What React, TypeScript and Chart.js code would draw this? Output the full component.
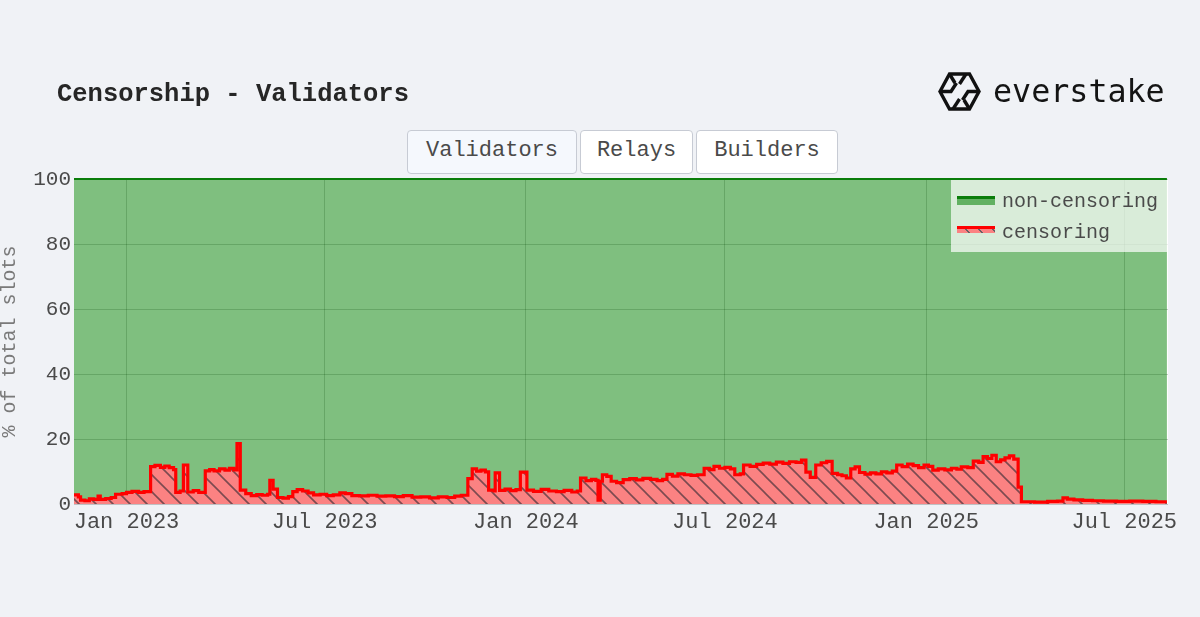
import React, { useEffect, useRef } from "react";
import { Chart, registerables } from "chart.js";

Chart.register(...registerables);

// ---------- data ----------
const seriesNames = ["non-censoring", "censoring"];

const censorDates = [
  "2022-11-14", "2022-11-18", "2022-11-20", "2022-11-24", "2022-11-28", "2022-12-02", "2022-12-06", "2022-12-08",
  "2022-12-13", "2022-12-18", "2022-12-22", "2022-12-28", "2023-01-01", "2023-01-06", "2023-01-12", "2023-01-17",
  "2023-01-23", "2023-01-27", "2023-02-01", "2023-02-05", "2023-02-09", "2023-02-13", "2023-02-15", "2023-02-19",
  "2023-02-22", "2023-02-26", "2023-03-03", "2023-03-08", "2023-03-14", "2023-03-18", "2023-03-22", "2023-03-27",
  "2023-04-01", "2023-04-05", "2023-04-09", "2023-04-12", "2023-04-15", "2023-04-20", "2023-04-25", "2023-04-30",
  "2023-05-05", "2023-05-10", "2023-05-12", "2023-05-15", "2023-05-19", "2023-05-24", "2023-05-29", "2023-06-02",
  "2023-06-06", "2023-06-11", "2023-06-16", "2023-06-21", "2023-06-27", "2023-07-03", "2023-07-09", "2023-07-15",
  "2023-07-20", "2023-07-26", "2023-08-02", "2023-08-10", "2023-08-18", "2023-08-26", "2023-09-03", "2023-09-11",
  "2023-09-19", "2023-09-27", "2023-10-05", "2023-10-13", "2023-10-21", "2023-10-28", "2023-11-03", "2023-11-09",
  "2023-11-13", "2023-11-17", "2023-11-21", "2023-11-25", "2023-11-28", "2023-12-03", "2023-12-04", "2023-12-08",
  "2023-12-13", "2023-12-18", "2023-12-23", "2023-12-27", "2024-01-02", "2024-01-08", "2024-01-15", "2024-01-22",
  "2024-01-29", "2024-02-05", "2024-02-12", "2024-02-17", "2024-02-20", "2024-02-25", "2024-03-01", "2024-03-05",
  "2024-03-07", "2024-03-09", "2024-03-11", "2024-03-15", "2024-03-19", "2024-03-24", "2024-03-30", "2024-04-05",
  "2024-04-11", "2024-04-17", "2024-04-24", "2024-04-30", "2024-05-05", "2024-05-09", "2024-05-14", "2024-05-19",
  "2024-05-25", "2024-05-31", "2024-06-06", "2024-06-12", "2024-06-17", "2024-06-21", "2024-06-26", "2024-07-01",
  "2024-07-06", "2024-07-10", "2024-07-15", "2024-07-18", "2024-07-24", "2024-07-30", "2024-08-05", "2024-08-11",
  "2024-08-17", "2024-08-23", "2024-08-29", "2024-09-04", "2024-09-09", "2024-09-13", "2024-09-17", "2024-09-22",
  "2024-09-27", "2024-10-02", "2024-10-07", "2024-10-12", "2024-10-16", "2024-10-20", "2024-10-24", "2024-10-28",
  "2024-11-01", "2024-11-06", "2024-11-11", "2024-11-16", "2024-11-21", "2024-11-26", "2024-12-01", "2024-12-05",
  "2024-12-10", "2024-12-15", "2024-12-20", "2024-12-25", "2024-12-30", "2025-01-03", "2025-01-07", "2025-01-12",
  "2025-01-18", "2025-01-24", "2025-01-29", "2025-02-02", "2025-02-08", "2025-02-13", "2025-02-18", "2025-02-22",
  "2025-02-26", "2025-03-02", "2025-03-06", "2025-03-10", "2025-03-14", "2025-03-18", "2025-03-22", "2025-03-26",
  "2025-03-29", "2025-04-10", "2025-04-22", "2025-05-01", "2025-05-06", "2025-05-10", "2025-05-16", "2025-05-24",
  "2025-06-02", "2025-06-12", "2025-06-24", "2025-07-06", "2025-07-18", "2025-07-30", "2025-08-09",
];

const censorValues = [
  2.8, 2.2, 1.2, 1.0, 1.6, 1.4, 2.4, 1.4,
  1.7, 2.0, 3.0, 3.2, 3.6, 3.9, 3.6, 3.8,
  11.5, 11.9, 11.3, 11.7, 11.2, 10.6, 3.6, 4.0,
  12.0, 3.7, 4.1, 3.6, 10.2, 10.6, 10.2, 10.8,
  10.4, 11.0, 10.5, 18.6, 4.3, 3.2, 2.6, 2.9,
  2.7, 3.0, 7.3, 4.6, 2.0, 1.8, 2.3, 3.8,
  4.4, 4.0, 3.4, 2.8, 3.0, 2.6, 2.8, 3.4,
  3.2, 2.6, 2.5, 2.7, 2.4, 2.5, 2.3, 2.6,
  2.1, 2.2, 1.9, 2.2, 2.0, 2.4, 2.7, 7.8,
  10.8, 10.1, 10.4, 9.9, 4.3, 4.0, 9.6, 4.2,
  4.6, 4.1, 4.4, 9.8, 4.3, 3.9, 4.5, 4.0,
  3.8, 4.2, 3.7, 4.0, 8.0, 7.2, 7.6, 7.3,
  1.2, 7.0, 9.0, 8.5, 7.0, 6.6, 7.5, 7.8,
  7.4, 7.9, 7.6, 7.2, 7.6, 9.1, 8.6, 9.3,
  9.0, 8.8, 9.0, 11.0, 10.6, 11.6, 11.0, 11.3,
  10.8, 9.0, 9.3, 12.0, 11.6, 12.2, 12.6, 12.3,
  12.9, 12.5, 13.0, 12.8, 13.5, 9.8, 8.2, 12.0,
  12.7, 13.1, 9.4, 9.0, 8.7, 8.0, 10.8, 11.4,
  9.7, 9.2, 9.6, 9.3, 9.9, 9.6, 10.1, 12.0,
  11.5, 12.3, 11.8, 11.2, 12.0, 11.6, 10.4, 10.8,
  10.5, 11.0, 10.7, 11.4, 11.2, 13.2, 12.8, 14.6,
  14.0, 15.0, 13.0, 13.6, 14.2, 14.8, 13.8, 5.2,
  0.7, 0.6, 0.8, 0.9, 1.9, 1.5, 1.3, 1.1,
  1.0, 0.9, 0.8, 0.9, 0.8, 0.7, 0.7,
];

const xRange = ["2022-11-14", "2025-08-10"];
const xTickDates = ["2023-01-01", "2023-07-01", "2024-01-01", "2024-07-01", "2025-01-01", "2025-07-01"];
const xTickLabels = ["Jan 2023", "Jul 2023", "Jan 2024", "Jul 2024", "Jan 2025", "Jul 2025"];
const yTickValues = [0, 20, 40, 60, 80, 100];
const yAxisTitle = "% of total slots";
const chartTitle = "Censorship - Validators";
const tabLabels = ["Validators", "Relays", "Builders"];

// ---------- helpers ----------
const toDay = (s: string) => {
  const [y, m, d] = s.split("-").map(Number);
  return Date.UTC(y, m - 1, d) / 86400000;
};

const MONO = "'Courier New', 'Liberation Mono', monospace";
const FILL_RED = "#fb8282";

function makeHatch(): CanvasPattern | string {
  const s = 17;
  const c = document.createElement("canvas");
  c.width = s;
  c.height = s;
  const g = c.getContext("2d");
  if (!g) return FILL_RED;
  g.fillStyle = FILL_RED;
  g.fillRect(0, 0, s, s);
  g.strokeStyle = "rgba(45,40,50,0.62)";
  g.lineWidth = 1.6;
  g.beginPath();
  g.moveTo(-2, -2);
  g.lineTo(s + 2, s + 2);
  g.moveTo(s - 3, -3);
  g.lineTo(s + 3, 3);
  g.moveTo(-3, s - 3);
  g.lineTo(3, s + 3);
  g.stroke();
  const p = g.createPattern(c, "repeat");
  return p || FILL_RED;
}

const plotBg = {
  id: "plotBg",
  beforeDraw(chart: any) {
    const { ctx, chartArea } = chart;
    if (!chartArea) return;
    ctx.save();
    ctx.fillStyle = "#ffffff";
    ctx.fillRect(chartArea.left, chartArea.top, chartArea.right - chartArea.left, chartArea.bottom - chartArea.top);
    ctx.restore();
  },
};

function ChartCanvas() {
  const ref = useRef<HTMLCanvasElement | null>(null);
  useEffect(() => {
    if (!ref.current) return;
    const xs = censorDates.map(toDay);
    const censoring = xs.map((x, i) => ({ x, y: censorValues[i] }));
    const nonCensoring = xs.map((x, i) => ({ x, y: 100 - censorValues[i] }));
    const tickVals = xTickDates.map(toDay);

    const chart = new Chart(ref.current, {
      type: "line",
      data: {
        datasets: [
          {
            label: seriesNames[1],
            data: censoring,
            stepped: "before",
            borderColor: "#ff0000",
            borderWidth: 3.2,
            backgroundColor: makeHatch() as any,
            fill: "origin",
            pointRadius: 0,
            stack: "s",
          },
          {
            label: seriesNames[0],
            data: nonCensoring,
            stepped: "before",
            borderColor: "#0a7d0a",
            borderWidth: 2,
            backgroundColor: "rgba(0,128,0,0.5)",
            fill: "-1",
            pointRadius: 0,
            stack: "s",
            clip: 3,
          } as any,
        ],
      },
      options: {
        animation: false,
        responsive: false,
        events: [],
        layout: { padding: { top: 179, right: 32, bottom: 60, left: 0 } },
        plugins: {
          legend: { display: false },
          tooltip: { enabled: false },
        },
        scales: {
          x: {
            type: "linear",
            min: toDay(xRange[0]),
            max: toDay(xRange[1]),
            grid: { color: "rgba(0,0,0,0.2)", drawTicks: false },
            border: { display: false },
            afterBuildTicks: (axis: any) => {
              axis.ticks = tickVals.map((v) => ({ value: v }));
            },
            afterFit: (axis: any) => {
              axis.height = 53;
            },
            ticks: {
              autoSkip: false,
              maxRotation: 0,
              padding: 5,
              color: "#4a4a4a",
              font: { family: MONO, size: 22 },
              callback: (_v: any, i: number) => xTickLabels[i],
            },
          },
          y: {
            stacked: true,
            min: 0,
            max: 100,
            grid: { color: "rgba(0,0,0,0.2)", drawTicks: false },
            border: { display: false },
            afterBuildTicks: (axis: any) => {
              axis.ticks = yTickValues.map((v) => ({ value: v }));
            },
            afterFit: (axis: any) => {
              axis.width = 74;
            },
            ticks: {
              padding: 3,
              color: "#4a4a4a",
              font: { family: MONO, size: 21 },
            },
            title: {
              display: true,
              text: yAxisTitle,
              color: "#7a7a7a",
              padding: 0,
              font: { family: MONO, size: 20, lineHeight: 1.0 },
            },
          },
        },
      },
      plugins: [plotBg],
    } as any);
    return () => chart.destroy();
  }, []);
  return (
    <canvas
      ref={ref}
      width={1200}
      height={617}
      style={{ position: "absolute", left: 0, top: 0, width: 1200, height: 617 }}
    />
  );
}

function Logo() {
  return (
    <div style={{ position: "absolute", left: 938, top: 70, height: 42, display: "flex", alignItems: "center" }}>
      <svg width="43" height="39" viewBox="0 0 43 39" style={{ display: "block" }}>
        <g fill="none" stroke="#111" strokeWidth="3.4" strokeLinejoin="miter">
          <path d="M2 19.5 L11.5 2 L31.5 2 L41 19.5 L31.5 37 L11.5 37 Z" />
          <path d="M2 19.5 L13 19.5 L18.5 11" />
          <path d="M41 19.5 L30 19.5 L24.5 28" />
          <path d="M11.5 2 L17 11" />
          <path d="M31.5 37 L26 28" />
          <path d="M15 37 L21.5 27" />
          <path d="M28 2 L21.5 12" />
        </g>
      </svg>
      <div
        style={{
          marginLeft: 12,
          fontFamily: "'DejaVu Sans Mono', monospace",
          fontSize: 31.7,
          lineHeight: "40px",
          color: "#141414",
          letterSpacing: 0,
        }}
      >
        everstake
      </div>
    </div>
  );
}

export default function App() {
  const tabs = [
    { left: 407, width: 170, bg: "#f5f8fd" },
    { left: 580, width: 113, bg: "#ffffff" },
    { left: 696, width: 142, bg: "#ffffff" },
  ];
  return (
    <div
      style={{
        position: "absolute",
        left: 0,
        top: 0,
        width: 1200,
        height: 617,
        background: "#f0f2f6",
        overflow: "hidden",
        fontFamily: MONO,
      }}
    >
      <ChartCanvas />
      <div
        style={{
          position: "absolute",
          left: 57,
          top: 80,
          height: 30,
          lineHeight: "30px",
          fontSize: 25.5,
          fontWeight: "bold",
          color: "#262626",
          whiteSpace: "nowrap",
        }}
      >
        {chartTitle}
      </div>
      <Logo />
      {tabLabels.map((t, i) => (
        <div
          key={t}
          style={{
            position: "absolute",
            left: tabs[i].left,
            top: 130,
            width: tabs[i].width,
            height: 44,
            boxSizing: "border-box",
            border: "1px solid #c7cbd4",
            borderRadius: 4,
            background: tabs[i].bg,
            color: "#4a4a4a",
            fontSize: 22,
            lineHeight: "40px",
            textAlign: "center",
          }}
        >
          {t}
        </div>
      ))}
      <div
        style={{
          position: "absolute",
          left: 951,
          top: 180,
          width: 217,
          height: 72,
          background: "rgba(255,255,255,0.7)",
        }}
      >
        <div style={{ position: "absolute", left: 6, top: 16, width: 38, height: 9, boxSizing: "border-box", borderTop: "3px solid #0a7d0a", background: "rgba(0,128,0,0.55)" }} />
        <div style={{ position: "absolute", left: 51, top: 10, lineHeight: "24px", fontSize: 20, color: "#4a4a4a", whiteSpace: "nowrap" }}>
          {seriesNames[0]}
        </div>
        <div
          style={{
            position: "absolute",
            left: 6,
            top: 46,
            width: 38,
            height: 7,
            boxSizing: "border-box",
            borderTop: "3px solid #ff0000",
            background: `repeating-linear-gradient(45deg, ${FILL_RED} 0px, ${FILL_RED} 8px, rgba(80,60,70,0.8) 8px, rgba(80,60,70,0.8) 9.5px)`,
          }}
        />
        <div style={{ position: "absolute", left: 51, top: 41, lineHeight: "24px", fontSize: 20, color: "#4a4a4a", whiteSpace: "nowrap" }}>
          {seriesNames[1]}
        </div>
      </div>
    </div>
  );
}
